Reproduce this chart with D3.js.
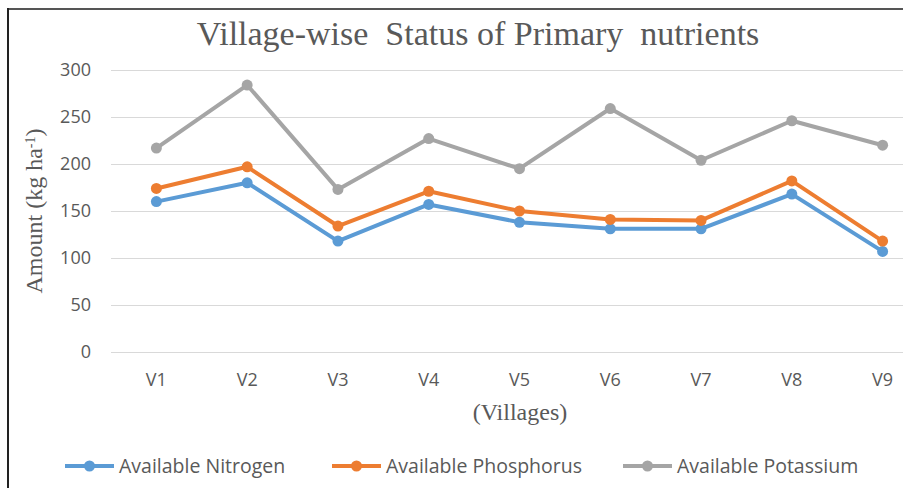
<!DOCTYPE html>
<html>
<head>
<meta charset="utf-8">
<script src="https://cdn.jsdelivr.net/npm/d3@7"></script>
<style>
  body { margin: 0; background: #fff; }
  svg { display: block; }
</style>
</head>
<body>
<div id="viz"></div>
<script>
const width = 903;
const height = 488;
const margin = {top: 70, right: -25, bottom: 136, left: 111};

// Data
const villages = ['V1', 'V2', 'V3', 'V4', 'V5', 'V6', 'V7', 'V8', 'V9'];
const nitrogen = [160, 180, 118, 157, 138, 131, 131, 168, 107];
const phosphorus = [174, 197, 134, 171, 150, 141, 140, 182, 118];
const potassium = [217, 284, 173, 227, 195, 259, 204, 246, 220];
const yTicks = [0, 50, 100, 150, 200, 250, 300];

const series = [
  {name: 'Available Nitrogen', values: nitrogen, color: '#5b9bd5'},
  {name: 'Available Phosphorus', values: phosphorus, color: '#ed7d31'},
  {name: 'Available Potassium', values: potassium, color: '#a5a5a5'}
];

const textColor = '#595959';
const sans = '"Open Sans", "Liberation Sans", Arial, sans-serif';
const serif = '"Liberation Serif", "Times New Roman", serif';

const svg = d3.select('#viz')
  .append('svg')
  .attr('width', width)
  .attr('height', height);

// outer frame (top and left edges only visible)
svg.append('line')
  .attr('x1', 7).attr('x2', width).attr('y1', 9).attr('y2', 9)
  .attr('stroke', '#555').attr('stroke-width', 2);
svg.append('line')
  .attr('x1', 8).attr('x2', 8).attr('y1', 8).attr('y2', height)
  .attr('stroke', '#222').attr('stroke-width', 2);

const xScale = d3.scaleBand()
  .domain(villages)
  .range([margin.left, width - margin.right]);

const yScale = d3.scaleLinear()
  .domain([0, 300])
  .range([height - margin.bottom, margin.top]);

const xPos = d => xScale(d) + xScale.bandwidth() / 2;

// gridlines + y labels
const yAxis = svg.append('g')
  .attr('transform', `translate(${margin.left}, 0)`)
  .call(d3.axisLeft(yScale)
    .tickValues(yTicks)
    .tickSize(-(width - margin.left))
    .tickPadding(20));
yAxis.select('.domain').remove();
yAxis.selectAll('.tick line').attr('stroke', '#d9d9d9').attr('stroke-width', 1);
yAxis.selectAll('.tick text')
  .attr('fill', textColor)
  .style('font-family', sans)
  .style('font-size', '18px');

// x labels
const xAxis = svg.append('g')
  .attr('transform', `translate(0, ${height - margin.bottom})`)
  .call(d3.axisBottom(xScale).tickSize(0).tickPadding(21));
xAxis.select('.domain').remove();
xAxis.selectAll('.tick text')
  .attr('fill', textColor)
  .style('font-family', sans)
  .style('font-size', '18px');

// lines
const line = d3.line()
  .x((d, i) => xPos(villages[i]))
  .y(d => yScale(d));

series.forEach(s => {
  svg.append('path')
    .attr('d', line(s.values))
    .attr('fill', 'none')
    .attr('stroke', s.color)
    .attr('stroke-width', 4)
    .attr('stroke-linejoin', 'round');
  svg.selectAll(null)
    .data(s.values)
    .join('circle')
      .attr('cx', (d, i) => xPos(villages[i]))
      .attr('cy', d => yScale(d))
      .attr('r', 5.5)
      .attr('fill', s.color);
});

// title
svg.append('text')
  .attr('x', 478)
  .attr('y', 45)
  .attr('text-anchor', 'middle')
  .attr('fill', textColor)
  .style('font-family', serif)
  .style('font-size', '34px')
  .style('white-space', 'pre')
  .text('Village-wise  Status of Primary  nutrients');

// y axis title
const yTitle = svg.append('text')
  .attr('transform', 'translate(42, 211) rotate(-90)')
  .attr('text-anchor', 'middle')
  .attr('fill', textColor)
  .style('font-family', serif)
  .style('font-size', '24px');
yTitle.append('tspan').text('Amount (kg ha');
yTitle.append('tspan').attr('baseline-shift', 'super').style('font-size', '14px').text('-1');
yTitle.append('tspan').text(')');

// x axis title
svg.append('text')
  .attr('x', 520)
  .attr('y', 420)
  .attr('text-anchor', 'middle')
  .attr('fill', textColor)
  .style('font-family', serif)
  .style('font-size', '24px')
  .text('(Villages)');

// legend
const legendX = [65, 332, 623];
const legendY = 466;
const legend = svg.selectAll('.legend')
  .data(series)
  .join('g')
    .attr('class', 'legend')
    .attr('transform', (d, i) => `translate(${legendX[i]}, ${legendY})`);
legend.append('line')
  .attr('x1', 0).attr('x2', 49)
  .attr('stroke', d => d.color)
  .attr('stroke-width', 4);
legend.append('circle')
  .attr('cx', 24.5).attr('r', 5.5)
  .attr('fill', d => d.color);
legend.append('text')
  .attr('x', 54)
  .attr('dy', '0.35em')
  .attr('fill', textColor)
  .style('font-family', sans)
  .style('font-size', '19.5px')
  .text(d => d.name);
</script>
</body>
</html>
